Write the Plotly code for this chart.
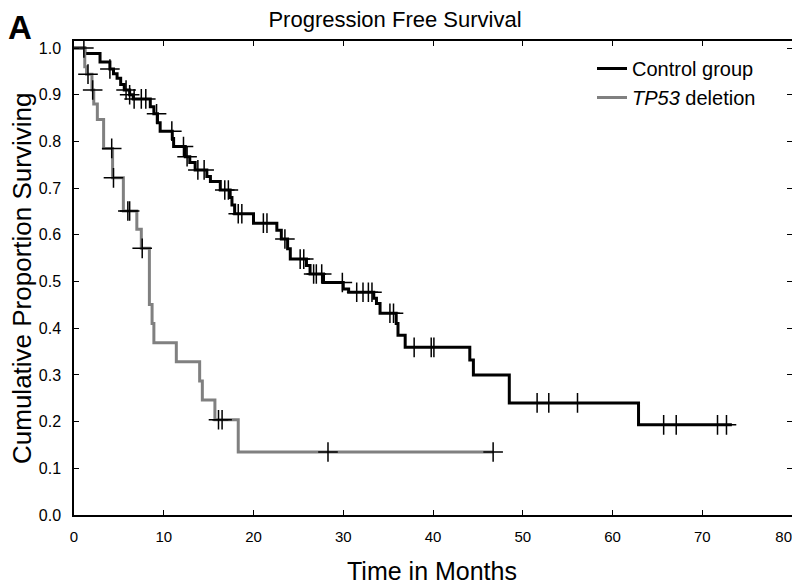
import numpy as np
import plotly.graph_objects as go

# ---- Data ----
ctrl_times = [0, 1.2, 2.9, 4.0, 4.4, 4.8, 5.2, 5.6, 6.2, 6.6, 8.5, 8.9, 9.3, 9.6, 10.95, 11.1,
              12.4, 12.9, 13.5, 14.8, 15.2, 16.3, 17.4, 17.6, 17.9, 20.0, 22.6, 23.1, 23.8,
              24.1, 25.9, 26.3, 27.8, 30.0, 30.6, 33.4, 33.7, 34.1, 35.9, 36.1, 36.9, 44.1,
              44.5, 48.5, 62.9]
ctrl_surv = [1.0, 0.988, 0.97, 0.955, 0.945, 0.935, 0.922, 0.91, 0.9, 0.891, 0.874, 0.859, 0.84,
             0.822, 0.806, 0.789, 0.767, 0.755, 0.739, 0.725, 0.714, 0.696, 0.68, 0.664, 0.645,
             0.625, 0.61, 0.591, 0.57, 0.548, 0.534, 0.516, 0.498, 0.484, 0.477, 0.464, 0.453,
             0.432, 0.41, 0.385, 0.359, 0.332, 0.30, 0.24, 0.193]
ctrl_end = 73.3
ctrl_censor = [4.0, 5.8, 6.2, 6.7, 7.5, 8.0, 9.2, 10.9, 12.2, 12.6, 13.8, 14.5, 16.8, 17.2, 18.3,
               18.7, 21.1, 21.5, 23.5, 25.2, 25.6, 26.7, 27.0, 27.6, 29.9, 31.5, 32.2, 32.8,
               33.2, 35.2, 35.6, 37.9, 39.8, 40.1, 51.6, 52.9, 56.1, 65.7, 67.1, 71.7, 72.7]

tp53_times = [0, 1.2, 1.4, 2.0, 2.2, 2.6, 3.3, 4.3, 5.5, 7.0, 7.5, 8.4, 8.7, 8.9, 11.4, 14.0,
              14.3, 15.7, 18.3]
tp53_surv = [1.0, 0.96, 0.944, 0.91, 0.88, 0.847, 0.785, 0.722, 0.651, 0.612, 0.571, 0.451,
             0.41, 0.369, 0.328, 0.287, 0.246, 0.204, 0.135]
tp53_end = 46.7
tp53_censor = [1.1, 1.56, 2.08, 4.2, 4.4, 6.0, 6.2, 7.6, 16.1, 16.5, 28.3, 46.7]

x_ticks = [0, 10, 20, 30, 40, 50, 60, 70, 80]
x_ticklabels = ["0", "10", "20", "30", "40", "50", "60", "70", "80\u00a0\u00a0\u00a0\u00a0"]
y_ticks = [0.0, 0.1, 0.2, 0.3, 0.4, 0.5, 0.6, 0.7, 0.8, 0.9, 1.0]

FONT = "Liberation Sans Narrow, Arial Narrow, Liberation Sans, Arial, sans-serif"


def surv_at(times, surv, t):
    idx = np.searchsorted(np.array(times), np.array(t), side="right") - 1
    return list(np.array(surv)[idx])


fig = go.Figure()

fig.add_trace(go.Scatter(
    x=ctrl_times + [ctrl_end], y=ctrl_surv + [ctrl_surv[-1]],
    mode="lines", line=dict(shape="hv", color="black", width=3),
    name="Control group"))
fig.add_trace(go.Scatter(
    x=tp53_times + [tp53_end], y=tp53_surv + [tp53_surv[-1]],
    mode="lines", line=dict(shape="hv", color="#808080", width=3),
    name="<i>TP53</i> deletion"))

for times, surv, cens in [(ctrl_times, ctrl_surv, ctrl_censor),
                          (tp53_times, tp53_surv, tp53_censor)]:
    fig.add_trace(go.Scatter(
        x=cens, y=surv_at(times, surv, cens), mode="markers",
        marker=dict(symbol="cross-thin", size=14, line=dict(color="black", width=1.5)),
        showlegend=False, hoverinfo="skip"))

# page has an 8px body margin; figure is 792x576 so page coords = figure coords + 8
OFF = 8
W, H = 792, 576
L, R, T, B = 66, 8, 33, 69          # plot area on page: x 74..792, y 41..515
pw, ph = W - L - R, H - T - B


def pxx(page_x):
    return (page_x - OFF - L) / pw


def pxy(page_y):
    return (H - B - (page_y - OFF)) / ph


fig.update_layout(
    width=W, height=H,
    margin=dict(l=L, r=R, t=T, b=B, autoexpand=False),
    paper_bgcolor="white", plot_bgcolor="white",
    font=dict(family=FONT, color="black", size=15),
    title=dict(text="Progression Free Survival", x=(395 - OFF) / W, xanchor="center",
               xref="container", y=1 - (19 - OFF) / H, yanchor="middle", yref="container",
               font=dict(size=22, family=FONT)),
    legend=dict(x=pxx(592), y=pxy(49), xanchor="left", yanchor="top",
                font=dict(size=20, family=FONT), bgcolor="rgba(0,0,0,0)",
                itemwidth=30, tracegroupgap=0),
    showlegend=True,
    annotations=[
        dict(text="<b>A</b>", x=pxx(7), y=pxy(8), xref="paper", yref="paper",
             xanchor="left", yanchor="top", showarrow=False, borderpad=0,
             font=dict(size=33, family="Liberation Sans, Arial, sans-serif")),
        dict(text="Cumulative Proportion Surviving", x=pxx(22), y=pxy(279),
             xref="paper", yref="paper", xanchor="center", yanchor="middle",
             textangle=-90, showarrow=False, font=dict(size=26, family=FONT)),
        dict(text="Time in Months", x=pxx(432), y=pxy(571),
             xref="paper", yref="paper", xanchor="center", yanchor="middle",
             showarrow=False, font=dict(size=25, family=FONT)),
    ],
)

fig.update_xaxes(range=[0, 80], tickvals=x_ticks, ticktext=x_ticklabels,
                 ticks="inside", ticklen=5, tickcolor="black", showline=True,
                 linecolor="black", linewidth=1.5, mirror="ticks", showgrid=False,
                 zeroline=False, tickfont=dict(size=15), automargin=False,
                 ticklabelstandoff=7, ticklabeloverflow="allow")
fig.update_yaxes(range=[0, 1.015], tickvals=y_ticks, ticktext=[f"{v:.1f}" for v in y_ticks],
                 ticks="inside", ticklen=5, tickcolor="black", showline=True,
                 linecolor="black", linewidth=1.5, mirror="ticks", showgrid=False,
                 zeroline=False, tickfont=dict(size=16), automargin=False,
                 ticklabelstandoff=8, ticklabeloverflow="allow")

fig.write_html("out.html")
